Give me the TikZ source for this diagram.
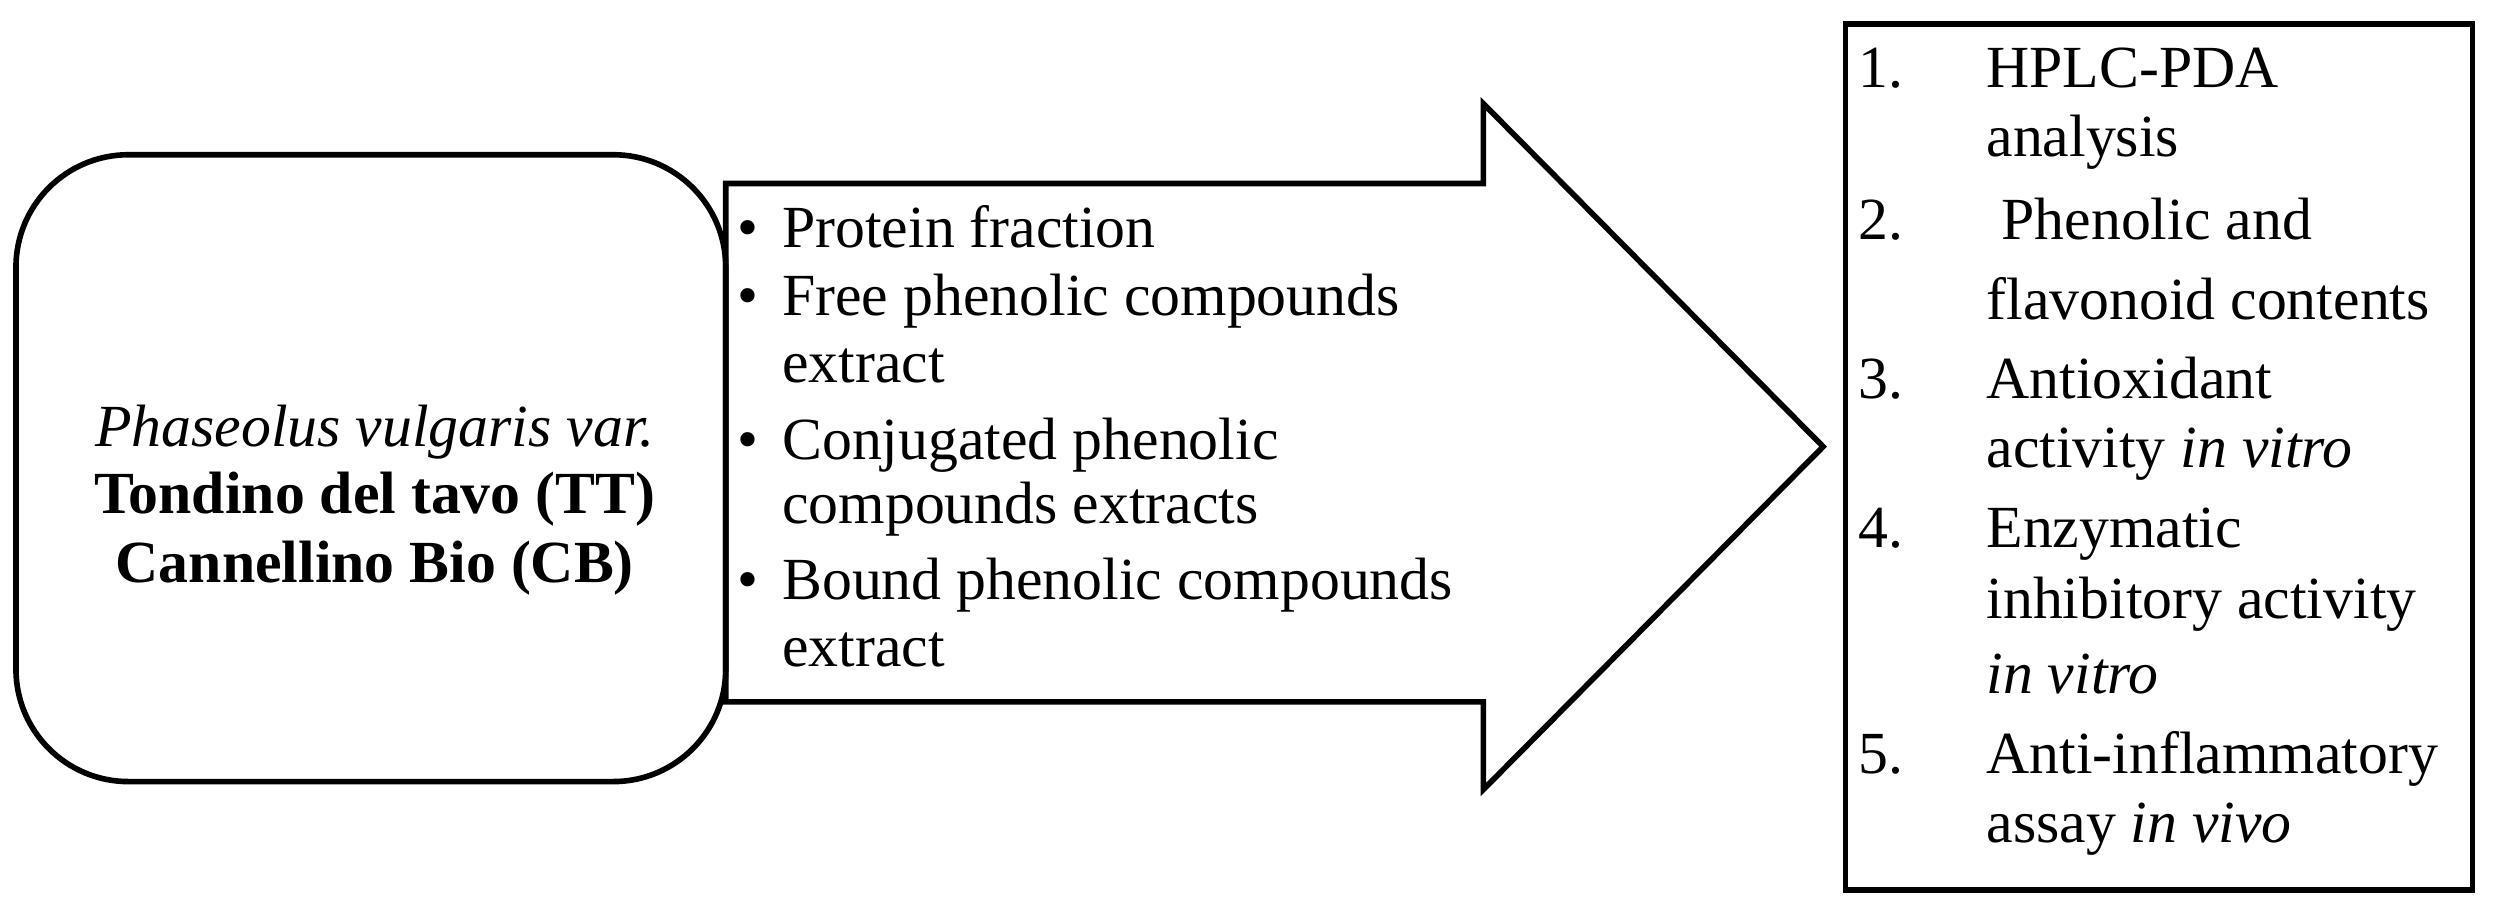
\documentclass[tikz,border=0pt]{standalone}
\usepackage{fontspec}
\setmainfont{Liberation Serif}
\begin{document}
\begin{tikzpicture}[x=0.01595cm,y=-0.01595cm,
  txt/.style={anchor=base west,inner sep=0pt,font=\fontsize{17}{20}\selectfont},
  ctxt/.style={anchor=base,inner sep=0pt,font=\fontsize{17}{20}\selectfont},
  line/.style={draw=black,line width=1.6pt}]
\useasboundingbox (0,0) rectangle (1568,575);
\draw[line,rounded corners=32pt] (10,97) rectangle (455,490);
\draw[line] (455,115) -- (930,115) -- (930,65) -- (1143,280) -- (930,495) -- (930,440) -- (455,440) -- cycle;
\draw[line] (1157,15) rectangle (1550,558);
\node[ctxt] (l1) at (235,280) {\itshape Phaseolus vulgaris var.};
\node[ctxt] (l2) at (235,322) {\bfseries Tondino del tavo (TT)};
\node[ctxt] (l3) at (235,365) {\bfseries Cannellino Bio (CB)};
\foreach \y/\t [count=\i] in {155/Protein fraction,198/Free phenolic compounds,240/extract,288/Conjugated phenolic,328/compounds extracts,376/Bound phenolic compounds,418/extract}{
  \node[txt] (m\i) at (490,\y) {\t};}
\foreach \y in {155,198,288,376}{\node[txt] at (462,\y) {\textbullet};}
\foreach \y/\t [count=\i] in {55/1.,150/2.,250/3.,343/4.,485/5.}{\node[txt] (n\i) at (1165,\y) {\t};}
\foreach \y/\t [count=\i] in {55/HPLC-PDA,98/analysis,150/\ Phenolic and,200/flavonoid contents,250/Antioxidant,293/activity \textit{in vitro},343/Enzymatic,388/inhibitory activity,435/\textit{in vitro},485/Anti-inflammatory,528/assay \textit{in vivo}}{
  \node[txt] (r\i) at (1245,\y) {\t};}
\end{tikzpicture}
\end{document}
